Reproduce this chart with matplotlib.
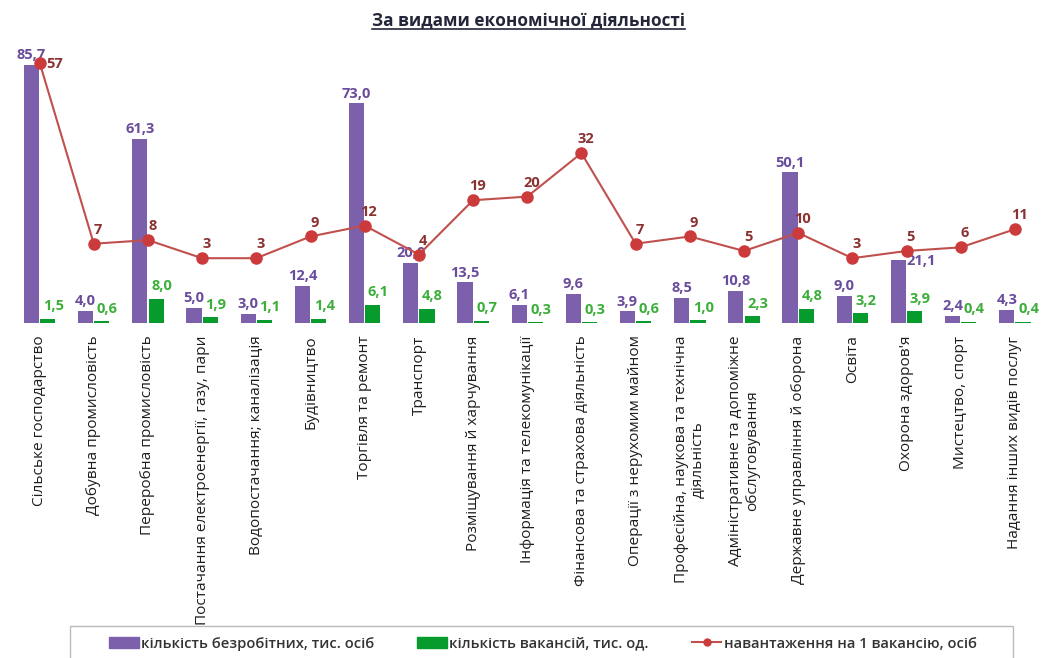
import matplotlib
matplotlib.use("Agg")
import matplotlib.pyplot as plt
import numpy as np
from matplotlib.lines import Line2D
from matplotlib.patches import Patch, Rectangle

plt.rcParams['font.family'] = ['Open Sans', 'DejaVu Sans']

categories = [
    "Сільське господарство",
    "Добувна промисловість",
    "Переробна промисловість",
    "Постачання електроенергії, газу, пари",
    "Водопостачання; каналізація",
    "Будівництво",
    "Торгівля та ремонт",
    "Транспорт",
    "Розміщування й харчування",
    "Інформація та телекомунікації",
    "Фінансова та страхова діяльність",
    "Операції з нерухомим майном",
    "Професійна, наукова та технічна\nдіяльність",
    "Адміністративне та допоміжне\nобслуговування",
    "Державне управління й оборона",
    "Освіта",
    "Охорона здоров'я",
    "Мистецтво, спорт",
    "Надання інших видів послуг",
]
unemployed = [85.7, 4.0, 61.3, 5.0, 3.0, 12.4, 73.0, 20.0, 13.5, 6.1, 9.6, 3.9, 8.5, 10.8, 50.1, 9.0, 21.1, 2.4, 4.3]
vacancies = [1.5, 0.6, 8.0, 1.9, 1.1, 1.4, 6.1, 4.8, 0.7, 0.3, 0.3, 0.6, 1.0, 2.3, 4.8, 3.2, 3.9, 0.4, 0.4]
load = [57, 7, 8, 3, 3, 9, 12, 4, 19, 20, 32, 7, 9, 5, 10, 3, 5, 6, 11]

title = "За видами економічної діяльності"
legend_labels = ["кількість безробітних, тис. осіб", "кількість вакансій, тис. од.",
                 "навантаження на 1 вакансію, осіб"]

PURPLE = "#7D60AB"
GREEN = "#079A2C"
RED = "#C0504D"
MARK = "#CC3B3B"
PURPLE_T = "#6A4C9C"
GREEN_T = "#3CAE3A"
RED_T = "#8A3232"

fig = plt.figure(figsize=(10.42, 6.58), dpi=100)
ax = fig.add_axes([0.012, 0.509, 0.988, 0.407])
x = np.arange(len(categories))
w = 0.28
off = 0.15

ax.bar(x - off, unemployed, width=w, color=PURPLE, zorder=2)
ax.bar(x + off, vacancies, width=w, color=GREEN, zorder=2)
ax.set_ylim(0, 89)
ax.set_xlim(-0.5, len(categories) - 0.5)

for i, v in enumerate(unemployed):
    if i == 16:
        ax.annotate(f"{v:.1f}".replace(".", ","), (x[i] - off, v), xytext=(6, -1),
                    textcoords="offset points", ha="left", va="center",
                    fontsize=10.5, fontweight="bold", color=PURPLE_T, zorder=5)
    else:
        ax.annotate(f"{v:.1f}".replace(".", ","), (x[i] - off, v), xytext=(0, 2),
                    textcoords="offset points", ha="center", va="bottom",
                    fontsize=10.5, fontweight="bold", color=PURPLE_T, zorder=5)
for i, v in enumerate(vacancies):
    ax.annotate(f"{v:.1f}".replace(".", ","), (x[i] + off, v), xytext=(4, 4),
                textcoords="offset points", ha="center", va="bottom",
                fontsize=10.5, fontweight="bold", color=GREEN_T, zorder=5)

ax.set_xticks(x)
ax.set_xticklabels(categories, rotation=90, fontsize=11.1, va="top", ha="center",
                   multialignment="center", color="#1E1E1E")
ax.tick_params(axis="x", length=0, pad=9)
ax.set_yticks([])
for s in ax.spines.values():
    s.set_visible(False)

ax2 = ax.twinx()
ax2.plot(x, load, color=RED, lw=1.5, marker="o", markersize=8,
         markerfacecolor=MARK, markeredgecolor=MARK, zorder=4)
ax2.set_ylim(-14.9, 59)
ax2.set_yticks([])
for s in ax2.spines.values():
    s.set_visible(False)
for i, v in enumerate(load):
    if i == 0:
        ax2.annotate(str(v), (x[i], v), xytext=(5, -1), textcoords="offset points",
                     ha="left", va="center", fontsize=10.5, fontweight="bold", color=RED_T)
    else:
        ax2.annotate(str(v), (x[i], v), xytext=(3, 5), textcoords="offset points",
                     ha="center", va="bottom", fontsize=10.5, fontweight="bold", color=RED_T)

handles = [Patch(color=PURPLE), Patch(color=GREEN),
           Line2D([0], [0], color=RED, lw=1.5, marker="o", markersize=5,
                  markerfacecolor=MARK, markeredgecolor=MARK)]
leg = fig.legend(handles, legend_labels, loc="center", bbox_to_anchor=(0.521, 0.022),
                 ncol=3, frameon=False, fontsize=10.6, handlelength=2.0, handleheight=0.7,
                 columnspacing=2.95, handletextpad=0.15, borderpad=0.0)
for t in leg.get_texts():
    t.set_color("#333333")
    t.set_fontweight("semibold")

fig.add_artist(Rectangle((70 / 1042, -0.02), (1013 - 70) / 1042, 0.02 + (658 - 626) / 658,
                         transform=fig.transFigure, fill=False, edgecolor="#BBBBBB", lw=1.0))

tt = fig.text(0.507, 0.968, title, ha="center", va="center", fontsize=12.3,
              fontweight="bold", color="#222638")
fig.canvas.draw()
bb = tt.get_window_extent().transformed(fig.transFigure.inverted())
fig.add_artist(Line2D([bb.x0, bb.x1], [bb.y0 + 0.002, bb.y0 + 0.002],
                      transform=fig.transFigure, color="#222638", lw=1.2))

fig.savefig("out.png", dpi=100)
